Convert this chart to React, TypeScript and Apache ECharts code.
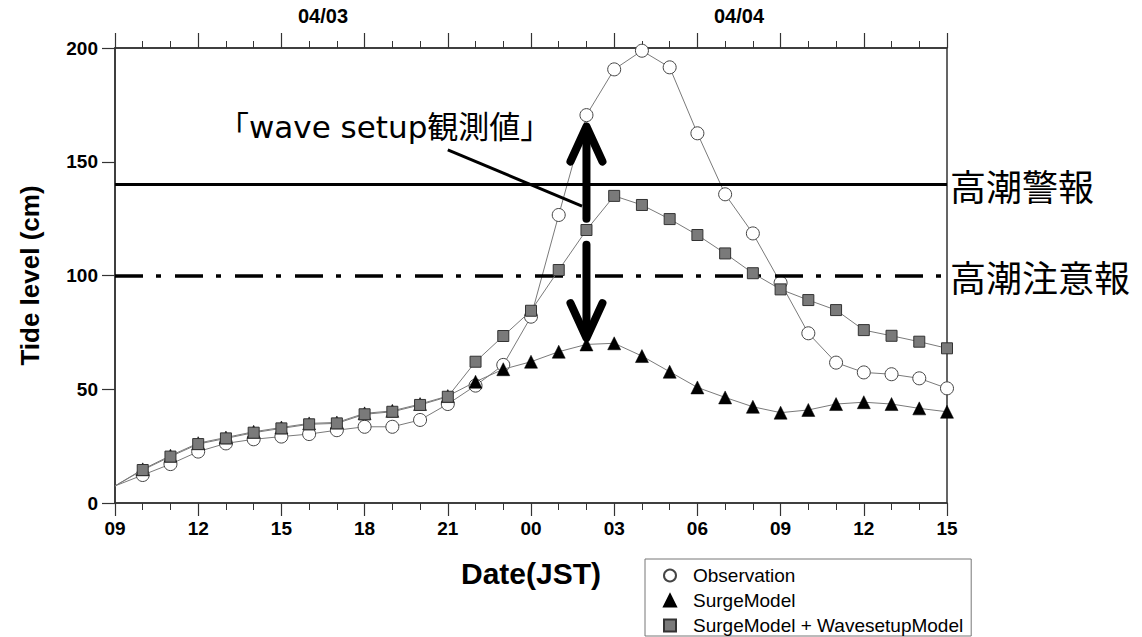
import React, { useEffect, useRef } from "react";
import * as echarts from "echarts";

// hours elapsed since 04/03 09:00 JST
const hours = [0, 1, 2, 3, 4, 5, 6, 7, 8, 9, 10, 11, 12, 13, 14, 15, 16, 17, 18, 19, 20, 21, 22, 23, 24, 25, 26, 27, 28, 29, 30];
const observation = [7.5, 12.3, 17.1, 22.6, 26.2, 28, 29.2, 30.3, 32, 33.5, 33.5, 36.5, 43.5, 51.6, 60.7, 81.9, 126.6, 170.5, 190.6, 198.8, 191.5, 162.5, 135.7, 118.5, 96.8, 74.6, 61.7, 57.4, 56.6, 54.8, 50.4];
const surgeModel = [7.5, 14.8, 20.8, 26.3, 28.8, 31.3, 33.2, 35, 35.4, 39.4, 40.5, 43.5, 47, 53.3, 58.8, 62.1, 66.5, 69.7, 70.2, 64.6, 57.7, 50.8, 46.4, 42.3, 39.7, 40.9, 43.5, 44.3, 43.5, 41.6, 40.1];
const surgeWaveModel = [7.5, 14.5, 20.4, 25.9, 28.4, 30.9, 32.8, 34.6, 35, 39, 40.1, 43.1, 46.7, 62.1, 73.4, 84.5, 102.4, 120, 135, 131, 124.8, 117.8, 109.7, 101, 93.9, 89.2, 84.8, 76, 73.5, 70.9, 68];

const xTickLabels = ["09", "12", "15", "18", "21", "00", "03", "06", "09", "12", "15"];
const dateLabels = ["04/03", "04/04"];
const dateLabelHours = [7.5, 22.5];
const seriesNames = ["Observation", "SurgeModel", "SurgeModel + WavesetupModel"];

const warningLevel = 140;
const advisoryLevel = 100;
const warningLabel = "高潮警報";
const advisoryLabel = "高潮注意報";

const annotationText = "「wave setup観測値」";
const arrowHour = 17;
const upArrow = [125, 165.5];
const downArrow = [113.5, 72.5];
const leader = [[12.0, 155.2], [16.84, 130.5]];

const toData = (vals: number[]) =>
  vals.map((v, i) => (i === 0 ? { value: [hours[i], v], symbol: "none" } : [hours[i], v]));

const AXIS_COLOR = "#333";
const LINE_COLOR = "#7a7a7a";
const BOLD_FONT = '"Liberation Sans", Arial, sans-serif';

export default function App() {
  const ref = useRef<HTMLDivElement>(null);
  useEffect(() => {
    if (!ref.current) return;
    const chart = echarts.init(ref.current, null, { renderer: "svg" });
    const option: any = {
      animation: false,
      backgroundColor: "#fff",
      grid: { left: 115, right: 195, top: 48, bottom: 134, show: true, borderColor: AXIS_COLOR, borderWidth: 1.5 },
      xAxis: [
        {
          type: "value", position: "bottom", min: 0, max: 30, interval: 3,
          name: "Date(JST)", nameLocation: "middle", nameGap: 55,
          nameTextStyle: { fontFamily: BOLD_FONT, fontWeight: "bold", fontSize: 30, color: "#000" },
          axisLine: { show: true, lineStyle: { color: AXIS_COLOR, width: 1.5 } },
          axisTick: { show: true, inside: false, length: 13, lineStyle: { color: AXIS_COLOR, width: 1.2 } },
          minorTick: { show: true, splitNumber: 3, length: 7, lineStyle: { color: AXIS_COLOR, width: 1 } },
          splitLine: { show: false },
          axisLabel: {
            margin: 16, fontFamily: BOLD_FONT, fontWeight: "bold", fontSize: 19, color: "#000",
            formatter: (v: number) => xTickLabels[Math.round(v / 3)] ?? "",
          },
        },
        {
          type: "value", position: "top", min: 0, max: 30, interval: 3,
          axisLine: { show: true, lineStyle: { color: AXIS_COLOR, width: 1.5 } },
          axisTick: { show: true, inside: false, length: 15, lineStyle: { color: AXIS_COLOR, width: 1.2 } },
          minorTick: { show: true, splitNumber: 3, length: 7, lineStyle: { color: AXIS_COLOR, width: 1 } },
          splitLine: { show: false },
          axisLabel: { show: false },
        },
        {
          type: "value", position: "top", min: 0, max: 30, interval: 7.5,
          axisLine: { show: false }, axisTick: { show: false }, splitLine: { show: false },
          axisLabel: {
            margin: 22, fontFamily: BOLD_FONT, fontWeight: "bold", fontSize: 20, color: "#000",
            formatter: (v: number) => {
              const i = dateLabelHours.indexOf(v);
              return i >= 0 ? dateLabels[i] : "";
            },
          },
        },
      ],
      yAxis: [
        {
          type: "value", min: 0, max: 200, interval: 50,
          name: "Tide level (cm)", nameLocation: "middle", nameGap: 72, nameRotate: 90,
          nameTextStyle: { fontFamily: BOLD_FONT, fontWeight: "bold", fontSize: 26, color: "#000" },
          axisLine: { show: true, lineStyle: { color: AXIS_COLOR, width: 1.5 } },
          axisTick: { show: true, inside: false, length: 13, lineStyle: { color: AXIS_COLOR, width: 1.2 } },
          splitLine: { show: false },
          axisLabel: { margin: 17, fontFamily: BOLD_FONT, fontWeight: "bold", fontSize: 19, color: "#000" },
        },
      ],
      legend: {
        orient: "vertical", left: 645, top: 559, height: 150,
        padding: [6, 8, 0, 7], itemGap: 4, itemWidth: 36, itemHeight: 15,
        borderColor: "#777", borderWidth: 1, backgroundColor: "#fff",
        lineStyle: { opacity: 0, width: 0 },
        textStyle: { fontFamily: '"Liberation Sans", Arial, sans-serif', fontSize: 19, color: "#000", lineHeight: 21 },
        data: seriesNames,
        selectedMode: false,
      },
      series: [
        {
          name: seriesNames[0], type: "line", data: toData(observation),
          symbol: "circle", symbolSize: 13, showSymbol: true,
          lineStyle: { color: LINE_COLOR, width: 1 },
          itemStyle: { color: "#fff", borderColor: "#444", borderWidth: 1 },
          z: 3,
          markLine: {
            silent: true, symbol: "none",
            label: { show: true, position: "end", distance: 3, fontFamily: '"Noto Sans CJK JP", sans-serif', fontSize: 36, color: "#000", formatter: (p: any) => p.name },
            data: [
              { name: warningLabel, yAxis: warningLevel, lineStyle: { color: "#000", width: 3, type: "solid" } },
              { name: advisoryLabel, yAxis: advisoryLevel, lineStyle: { color: "#000", width: 3.5, type: [28, 13, 5, 14] } },
            ],
          },
        },
        {
          name: seriesNames[1], type: "line", data: toData(surgeModel),
          symbol: "triangle", symbolSize: 13, showSymbol: true,
          lineStyle: { color: LINE_COLOR, width: 1 },
          itemStyle: { color: "#000", borderColor: "#000", borderWidth: 0.5 },
          z: 4,
        },
        {
          name: seriesNames[2], type: "line", data: toData(surgeWaveModel),
          symbol: "rect", symbolSize: 11, showSymbol: true,
          lineStyle: { color: LINE_COLOR, width: 1 },
          itemStyle: { color: "#7a7a7a", borderColor: "#333", borderWidth: 1 },
          z: 5,
        },
      ],
    };
    chart.setOption(option);

    const px = (h: number, v: number) => chart.convertToPixel({ xAxisIndex: 0, yAxisIndex: 0 }, [h, v]) as number[];
    const upBase = px(arrowHour, upArrow[0]);
    const upTip = px(arrowHour, upArrow[1]);
    const dnBase = px(arrowHour, downArrow[0]);
    const dnTip = px(arrowHour, downArrow[1]);
    const l0 = px(leader[0][0], leader[0][1]);
    const l1 = px(leader[1][0], leader[1][1]);
    const headW = 16;
    const headH = 35;
    const strokeStyle = { stroke: "#000", lineWidth: 8, lineCap: "round", lineJoin: "round", fill: null };
    chart.setOption({
      graphic: [
        { type: "line", z: 100, shape: { x1: upBase[0], y1: upBase[1], x2: upTip[0], y2: upTip[1] + 4 }, style: strokeStyle },
        { type: "polyline", z: 100, shape: { points: [[upTip[0] - headW, upTip[1] + headH], [upTip[0], upTip[1]], [upTip[0] + headW, upTip[1] + headH]] }, style: strokeStyle },
        { type: "line", z: 100, shape: { x1: dnBase[0], y1: dnBase[1], x2: dnTip[0], y2: dnTip[1] - 4 }, style: strokeStyle },
        { type: "polyline", z: 100, shape: { points: [[dnTip[0] - headW, dnTip[1] - headH], [dnTip[0], dnTip[1]], [dnTip[0] + headW, dnTip[1] - headH]] }, style: strokeStyle },
        { type: "line", z: 100, shape: { x1: l0[0], y1: l0[1], x2: l1[0], y2: l1[1] }, style: { stroke: "#000", lineWidth: 3 } },
        {
          type: "text", z: 100, left: 218, top: 111,
          style: { text: annotationText, fontFamily: '"DejaVu Sans", "Noto Sans CJK JP", sans-serif', fontSize: 31, fill: "#000" },
        },
      ],
    });

    return () => chart.dispose();
  }, []);
  return <div ref={ref} style={{ position: "fixed", left: 0, top: 0, width: 1142, height: 637, background: "#fff" }} />;
}
